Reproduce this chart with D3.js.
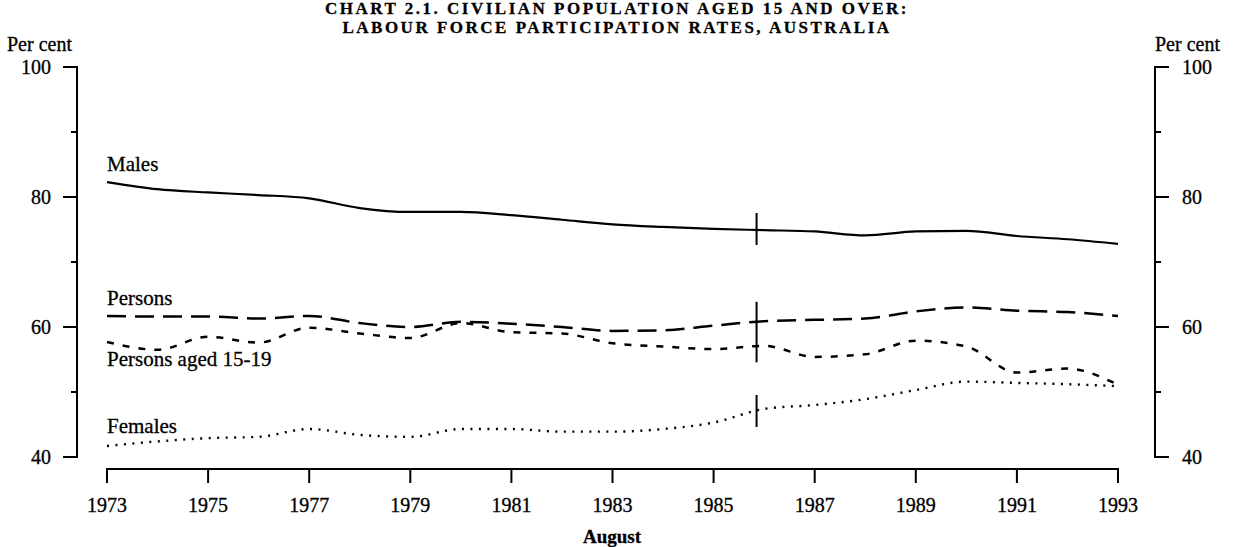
<!DOCTYPE html>
<html>
<head>
<meta charset="utf-8">
<script src="https://cdn.jsdelivr.net/npm/d3@7"></script>
<style>
  body { margin: 0; background: #fff; }
  svg { display: block; font-family: "Liberation Serif", "Times New Roman", serif; }
  text { stroke: #000; stroke-width: 0.3px; }
</style>
</head>
<body>
<svg id="chart" width="1234" height="547"></svg>
<script>
// Labour force participation rates chart
const svg = d3.select('#chart');
const width = +svg.attr('width');
const height = +svg.attr('height');

// Data (August of each year)
const years = [1973, 1974, 1975, 1976, 1977, 1978, 1979, 1980, 1981, 1982, 1983,
               1984, 1985, 1986, 1987, 1988, 1989, 1990, 1991, 1992, 1993];
const males = [82.3, 81.2, 80.7, 80.3, 79.8, 78.3, 77.7, 77.7, 77.2, 76.5, 75.8,
               75.4, 75.1, 74.9, 74.7, 74.1, 74.7, 74.8, 74.0, 73.5, 72.8];
const persons = [61.7, 61.6, 61.6, 61.3, 61.7, 60.6, 60.0, 60.8, 60.5, 60.0, 59.4,
                 59.5, 60.2, 60.9, 61.1, 61.3, 62.4, 63.0, 62.5, 62.3, 61.7];
const persons1519 = [57.7, 56.5, 58.5, 57.6, 59.9, 59.0, 58.3, 60.6, 59.2, 59.0, 57.5,
                     57.0, 56.6, 57.1, 55.4, 55.8, 57.9, 57.0, 53.0, 53.6, 51.1];
const females = [41.7, 42.4, 42.9, 43.1, 44.3, 43.4, 43.1, 44.3, 44.3, 43.9, 43.9,
                 44.3, 45.3, 47.4, 48.0, 48.9, 50.3, 51.6, 51.4, 51.2, 50.9];
const xTicks = [1973, 1975, 1977, 1979, 1981, 1983, 1985, 1987, 1989, 1991, 1993];
const yMajor = [40, 60, 80, 100];
const yMinor = [50, 70, 90];
const breakYear = 1985.85; // series break marker
const titleLines = ['CHART 2.1. CIVILIAN POPULATION AGED 15 AND OVER:',
                    'LABOUR FORCE PARTICIPATION RATES, AUSTRALIA'];

// Layout
const leftAxisX = 77;
const rightAxisX = 1155;
const xAxisY = 469;

const x = d3.scaleLinear().domain([1973, 1993]).range([107, 1118]);
const y = d3.scaleLinear().domain([40, 100]).range([457, 67]);

// Title
svg.append('g').selectAll('text')
    .data(titleLines)
    .join('text')
    .attr('x', 617)
    .attr('y', (d, i) => 14 + i * 19)
    .attr('text-anchor', 'middle')
    .attr('font-size', 17)
    .attr('font-weight', 'bold')
    .attr('letter-spacing', 2.5)
    .text(d => d);

// "Per cent" labels
svg.append('text').attr('x', 7).attr('y', 51).attr('font-size', 20).text('Per cent');
svg.append('text').attr('x', 1155).attr('y', 51).attr('font-size', 20).text('Per cent');

// Y axes (ticks point outward)
function drawYAxis(ax, dir) {
    const g = svg.append('g').attr('stroke', '#000').attr('stroke-width', 2);
    g.append('line').attr('x1', ax).attr('x2', ax).attr('y1', y(100) - 1).attr('y2', y(40) + 1);
    yMajor.forEach(v => {
        g.append('line').attr('x1', ax).attr('x2', ax + dir * 14).attr('y1', y(v)).attr('y2', y(v));
    });
    yMinor.forEach(v => {
        g.append('line').attr('x1', ax).attr('x2', ax + dir * 6).attr('y1', y(v)).attr('y2', y(v));
    });
    svg.append('g').selectAll('text')
        .data(yMajor)
        .join('text')
        .attr('x', dir < 0 ? ax - 26 : ax + 27)
        .attr('y', d => y(d))
        .attr('dy', '0.35em')
        .attr('text-anchor', dir < 0 ? 'end' : 'start')
        .attr('font-size', 20)
        .text(d => d);
}
drawYAxis(leftAxisX, -1);
drawYAxis(rightAxisX, 1);

// X axis
const xg = svg.append('g').attr('stroke', '#000').attr('stroke-width', 2);
xg.append('line').attr('x1', x(1973) - 1).attr('x2', x(1993) + 1).attr('y1', xAxisY).attr('y2', xAxisY);
xTicks.forEach(t => {
    xg.append('line').attr('x1', x(t)).attr('x2', x(t)).attr('y1', xAxisY).attr('y2', xAxisY + 14);
});
svg.append('g').selectAll('text')
    .data(xTicks)
    .join('text')
    .attr('x', d => x(d))
    .attr('y', 512)
    .attr('text-anchor', 'middle')
    .attr('font-size', 20)
    .text(d => d);
svg.append('text')
    .attr('x', 612).attr('y', 543)
    .attr('text-anchor', 'middle')
    .attr('font-size', 19)
    .attr('font-weight', 'bold')
    .text('August');

// Series lines
const line = d3.line()
    .x((d, i) => x(years[i]))
    .y(d => y(d))
    .curve(d3.curveMonotoneX);

const series = [
    { values: males, dash: null, width: 2.2 },
    { values: persons, dash: '19,9', width: 2.5 },
    { values: persons1519, dash: '7,9', width: 2.5 },
    { values: females, dash: '2,6.5', width: 2.4 }
];
series.forEach(s => {
    svg.append('path')
        .attr('d', line(s.values))
        .attr('fill', 'none')
        .attr('stroke', '#000')
        .attr('stroke-width', s.width)
        .attr('stroke-dasharray', s.dash);
});

// Break markers
function valueAt(arr, yr) {
    const i = years.indexOf(Math.floor(yr));
    const f = yr - years[i];
    return arr[i] + (arr[i + 1] - arr[i]) * f;
}
const bx = x(breakYear);
const markers = [
    [y(valueAt(males, breakYear)) - 17, y(valueAt(males, breakYear)) + 15],
    [y(valueAt(persons, breakYear)) - 20, y(valueAt(persons1519, breakYear)) + 16],
    [y(valueAt(females, breakYear)) - 16, y(valueAt(females, breakYear)) + 16]
];
markers.forEach(m => {
    svg.append('line')
        .attr('x1', bx).attr('x2', bx)
        .attr('y1', m[0]).attr('y2', m[1])
        .attr('stroke', '#000')
        .attr('stroke-width', 2);
});

// Series labels
const labels = [
    { text: 'Males', dy: y(males[0]) - 11 },
    { text: 'Persons', dy: y(persons[0]) - 11 },
    { text: 'Persons aged 15-19', dy: y(persons1519[0]) + 24 },
    { text: 'Females', dy: y(females[0]) - 13 }
];
svg.append('g').selectAll('text')
    .data(labels)
    .join('text')
    .attr('x', x(1973))
    .attr('y', d => d.dy)
    .attr('font-size', 21)
    .text(d => d.text);
</script>
</body>
</html>
